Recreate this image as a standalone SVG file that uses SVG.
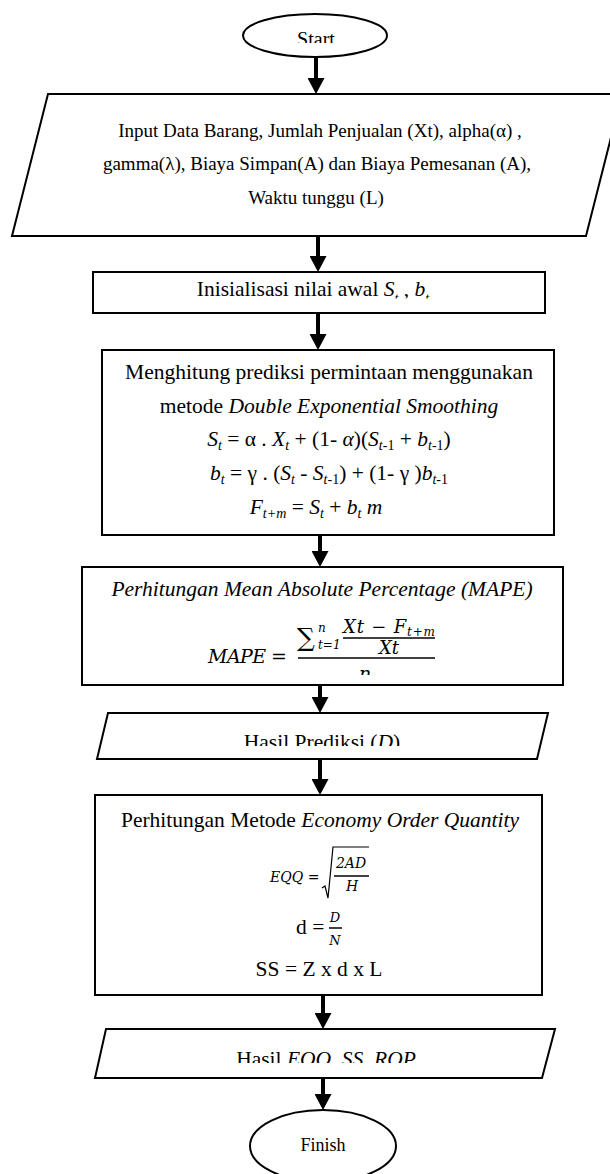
<svg xmlns="http://www.w3.org/2000/svg" width="610" height="1174" viewBox="0 0 610 1174">
<style>
.s{stroke:#000;stroke-width:2;fill:#fff}
.t{font-family:"Liberation Serif","Times New Roman",serif;fill:#000}
.m{font-family:"DejaVu Serif","Liberation Serif",serif;font-style:italic;fill:#000}
.i{font-style:italic}
.fl{stroke:#000;stroke-width:1.5}
#connectors line{stroke:#000;stroke-width:4;marker-end:url(#ah)}
</style>
<defs>
<marker id="ah" markerUnits="userSpaceOnUse" markerWidth="16" markerHeight="17" refX="0" refY="8.5" orient="auto" viewBox="0 0 16 17"><path d="M0,0 L16,8.5 L0,17 z" fill="#000"/></marker>
<clipPath id="cStart"><rect x="0" y="0" width="610" height="43"/></clipPath>
<clipPath id="cInit"><rect x="0" y="272" width="610" height="26.5"/></clipPath>
<clipPath id="cN"><rect x="0" y="660" width="610" height="15"/></clipPath>
<clipPath id="cHP"><rect x="0" y="713" width="610" height="33"/></clipPath>
<clipPath id="cHE"><rect x="0" y="1029" width="610" height="34"/></clipPath>
</defs>
<rect width="610" height="1174" fill="#fff"/>

<g id="connectors">
<line x1="316" y1="58" x2="316" y2="78"/>
<line x1="318" y1="236" x2="318" y2="256"/>
<line x1="318" y1="313" x2="318" y2="334"/>
<line x1="320" y1="535" x2="320" y2="551"/>
<line x1="320" y1="685" x2="320" y2="697"/>
<line x1="320" y1="759" x2="320" y2="779"/>
<line x1="323" y1="995" x2="323" y2="1013"/>
<line x1="323" y1="1078" x2="323" y2="1094"/>
</g>

<g id="start">
<ellipse class="s" cx="315" cy="35.5" rx="72" ry="21.5"/>
<text class="t" x="316" y="46" font-size="20" text-anchor="middle" clip-path="url(#cStart)">Start</text>
</g>

<g id="input">
<polygon class="s" points="48,94 622,94 586,236 12,236"/>
<text class="t" x="320" y="137" font-size="19" text-anchor="middle">Input Data Barang, Jumlah Penjualan (Xt), alpha(α) ,</text>
<text class="t" x="317" y="170" font-size="19" text-anchor="middle">gamma(λ), Biaya Simpan(A) dan Biaya Pemesanan (A),</text>
<text class="t" x="316" y="204" font-size="19" text-anchor="middle">Waktu tunggu (L)</text>
</g>

<g id="init">
<rect class="s" x="93" y="272" width="452" height="41"/>
<text class="t" x="313" y="296" font-size="21.5" text-anchor="middle" clip-path="url(#cInit)">Inisialisasi nilai awal <tspan class="i">S</tspan><tspan class="i" font-size="14" dy="7">t</tspan><tspan dy="-7"> , </tspan><tspan class="i">b</tspan><tspan class="i" font-size="14" dy="7">t</tspan></text>
</g>

<g id="des">
<rect class="s" x="102" y="350" width="452" height="185"/>
<text class="t" x="329" y="379" font-size="21.5" text-anchor="middle">Menghitung prediksi permintaan menggunakan</text>
<text class="t" x="329" y="413" font-size="21.5" text-anchor="middle">metode <tspan class="i">Double Exponential Smoothing</tspan></text>
<text class="t" x="329" y="446" font-size="21.5" text-anchor="middle"><tspan class="i">S</tspan><tspan class="i" font-size="14" dy="4">t</tspan><tspan dy="-4"> = α . </tspan><tspan class="i">X</tspan><tspan class="i" font-size="14" dy="4">t</tspan><tspan dy="-4"> + (1- </tspan><tspan class="i">α</tspan>)(<tspan class="i">S</tspan><tspan font-size="14" dy="4"><tspan class="i">t</tspan>-1</tspan><tspan dy="-4"> + </tspan><tspan class="i">b</tspan><tspan font-size="14" dy="4"><tspan class="i">t</tspan>-1</tspan><tspan dy="-4">)</tspan></text>
<text class="t" x="329" y="480" font-size="21.5" text-anchor="middle"><tspan class="i">b</tspan><tspan class="i" font-size="14" dy="4">t</tspan><tspan dy="-4"> = γ . (</tspan><tspan class="i">S</tspan><tspan class="i" font-size="14" dy="4">t</tspan><tspan dy="-4"> - </tspan><tspan class="i">S</tspan><tspan font-size="14" dy="4"><tspan class="i">t</tspan>-1</tspan><tspan dy="-4">) + (1- γ )</tspan><tspan class="i">b</tspan><tspan font-size="14" dy="4"><tspan class="i">t</tspan>-1</tspan></text>
<text class="t" x="316" y="514" font-size="21.5" text-anchor="middle"><tspan class="i">F</tspan><tspan class="i" font-size="14" dy="4">t+m</tspan><tspan dy="-4"> = </tspan><tspan class="i">S</tspan><tspan class="i" font-size="14" dy="4">t</tspan><tspan dy="-4"> + </tspan><tspan class="i">b</tspan><tspan class="i" font-size="14" dy="4">t</tspan><tspan class="i" dy="-4"> m</tspan></text>
</g>

<g id="mape">
<rect class="s" x="82" y="567" width="481" height="118"/>
<text class="t i" x="322" y="596" font-size="21.5" text-anchor="middle">Perhitungan Mean Absolute Percentage (MAPE)</text>
<text class="m" x="208" y="663" font-size="19" textLength="79">MAPE =</text>
<text x="297" y="646" font-size="25" font-family="DejaVu Serif,DejaVu Sans,serif">∑</text>
<text class="m" x="318" y="632" font-size="12">n</text>
<text class="m" x="318" y="649" font-size="12">t=1</text>
<text class="m" x="343" y="633" font-size="18" textLength="92">Xt − F<tspan font-size="12" dy="3">t+m</tspan></text>
<line class="fl" x1="343" y1="638" x2="435" y2="638"/>
<text class="m" x="389" y="654" font-size="18" text-anchor="middle">Xt</text>
<line class="fl" x1="298" y1="658" x2="435" y2="658"/>
<text class="m" x="365" y="680" font-size="19" text-anchor="middle" clip-path="url(#cN)">n</text>
</g>

<g id="hasil-prediksi">
<polygon class="s" points="108,713 548,713 537,759 97,759"/>
<text class="t" x="322" y="749" font-size="21.5" text-anchor="middle" clip-path="url(#cHP)">Hasil Prediksi (<tspan class="i">D</tspan>)</text>
</g>

<g id="eoq">
<rect class="s" x="95" y="795" width="447" height="200"/>
<text class="t" x="320" y="827" font-size="21.5" text-anchor="middle">Perhitungan Metode <tspan class="i">Economy Order Quantity</tspan></text>
<text class="m" x="270" y="882" font-size="14">EQQ =</text>
<path d="M322,888 L325,886 L328,898 L333,847 L369,847" fill="none" stroke="#000" stroke-width="1.2"/>
<text class="m" x="351" y="868" font-size="14" text-anchor="middle">2AD</text>
<line class="fl" x1="334" y1="876" x2="369" y2="876" stroke-width="1.2"/>
<text class="m" x="352" y="891" font-size="14" text-anchor="middle">H</text>
<text class="t" x="296" y="934" font-size="21.5">d =</text>
<text class="m" x="335" y="922" font-size="13" text-anchor="middle">D</text>
<line class="fl" x1="329" y1="928" x2="342" y2="928" stroke-width="1.2"/>
<text class="m" x="335" y="945" font-size="13" text-anchor="middle">N</text>
<text class="t" x="319" y="976" font-size="21.5" text-anchor="middle">SS = Z x d x L</text>
</g>

<g id="hasil-eoq">
<polygon class="s" points="106,1029 555,1029 542,1078 95,1078"/>
<text class="t" x="326" y="1066" font-size="21.5" text-anchor="middle" clip-path="url(#cHE)">Hasil <tspan class="i">EOQ, SS, ROP</tspan></text>
</g>

<g id="finish">
<ellipse class="s" cx="323" cy="1146" rx="73" ry="36"/>
<text class="t" x="323" y="1151" font-size="18" text-anchor="middle">Finish</text>
</g>
</svg>
